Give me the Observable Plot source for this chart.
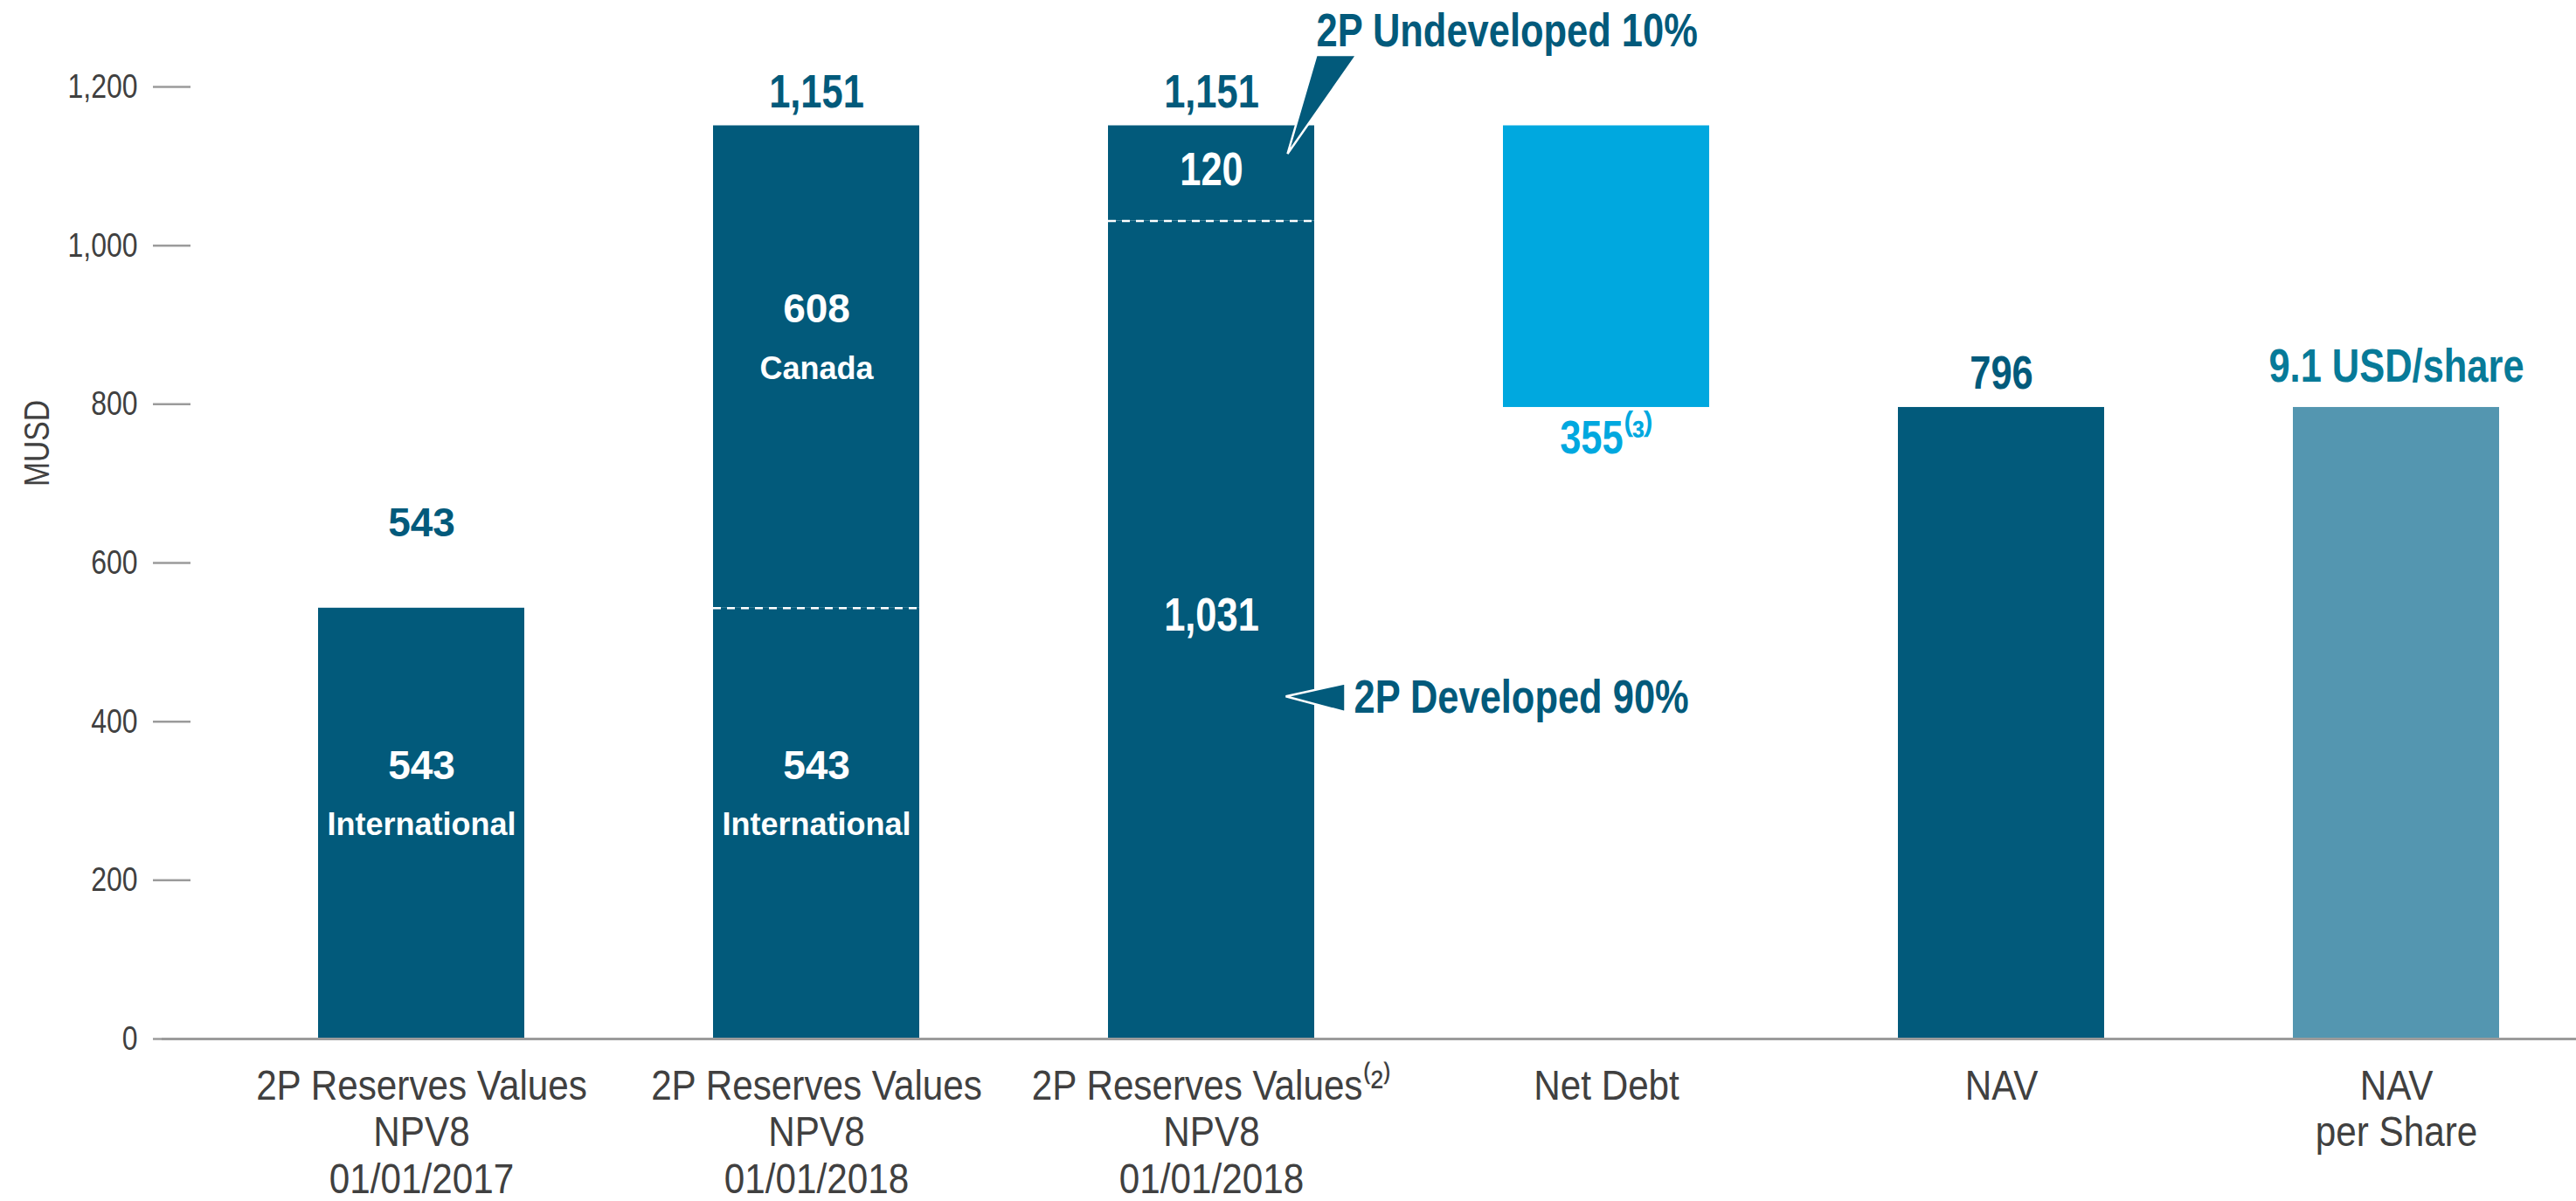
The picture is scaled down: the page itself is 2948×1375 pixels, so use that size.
<!DOCTYPE html>
<html><head><meta charset="utf-8">
<script src="https://cdn.jsdelivr.net/npm/d3@7"></script>
<script src="https://cdn.jsdelivr.net/npm/@observablehq/plot@0.6"></script>
<style>
html,body{margin:0;padding:0;background:#fff;}
#chart svg{display:block;}
</style></head><body><div id="chart"></div>
<script>
// ---- data ----
const categories = [
  "2P Reserves Values\nNPV8\n01/01/2017",
  "2P Reserves Values\nNPV8\n01/01/2018",
  "2P Reserves Values⁽²⁾\nNPV8\n01/01/2018",
  "Net Debt",
  "NAV",
  "NAV\nper Share"
];
const internationalValues = [543, 543];
const canadaValue = 608;
const developedValue = 1031;
const undevelopedValue = 120;
const netDebtValue = 355;
const navValue = 796;
const navPerShareLabel = "9.1 USD/share";
const netDebtLabel = "355⁽³⁾";
const segmentNames = ["International", "Canada"];
const annotationLabels = ["2P Undeveloped 10%", "2P Developed 90%"];
const yTicks = [0, 200, 400, 600, 800, 1000, 1200];

// ---- styles ----
const DARK = "#025a7b", CYAN = "#00a8df", LIGHT = "#5496b0", TEAL = "#077a98";
const TEXT = "#404040", AXIS = "#9b9b9b";
const NARROW = "'Liberation Sans',Arial,sans-serif";          // compressed horizontally after render
const WIDE = "'Liberation Sans',Arial,Helvetica,sans-serif";
const fmt = d3.format(",");

// ---- derived tables ----
const [c0, c1, c2, c3, c4, c5] = categories;
const total2017 = internationalValues[0];
const total2018 = internationalValues[1] + canadaValue;
const total2018b = developedValue + undevelopedValue;
const netDebtBase = total2018b - netDebtValue;

const segments = [
  {x: c0, y1: 0, y2: total2017, kind: "dark"},
  {x: c1, y1: 0, y2: internationalValues[1], kind: "dark"},
  {x: c1, y1: internationalValues[1], y2: total2018, kind: "dark"},
  {x: c2, y1: 0, y2: developedValue, kind: "dark"},
  {x: c2, y1: developedValue, y2: total2018b, kind: "dark"},
  {x: c3, y1: netDebtBase, y2: total2018b, kind: "cyan"},
  {x: c4, y1: 0, y2: navValue, kind: "dark"},
  {x: c5, y1: 0, y2: navValue, kind: "light"}
];
const dividers = [
  {x: c1, y: internationalValues[1]},
  {x: c2, y: developedValue}
];
const insideWide = [
  {x: c0, y: total2017 / 2, value: fmt(internationalValues[0]), name: segmentNames[0]},
  {x: c1, y: internationalValues[1] / 2, value: fmt(internationalValues[1]), name: segmentNames[0]},
  {x: c1, y: (internationalValues[1] + total2018) / 2, value: fmt(canadaValue), name: segmentNames[1]}
];
const insideUndev = [{x: c2, y: (developedValue + total2018b) / 2, value: fmt(undevelopedValue)}];
const insideDev = [{x: c2, y: developedValue / 2, value: fmt(developedValue)}];
const topFirst = [{x: c0, y: total2017, t: fmt(total2017)}];
const topNarrow = [
  {x: c1, y: total2018, t: fmt(total2018)},
  {x: c2, y: total2018b, t: fmt(total2018b)},
  {x: c4, y: navValue, t: fmt(navValue)}
];
const topShare = [{x: c5, y: navValue, t: navPerShareLabel}];
const debtLabel = [{x: c3, y: netDebtBase, t: netDebtLabel}];
const undevAnchor = [{x: c2, y: total2018b, t: annotationLabels[0]}];
const devAnchor = [{x: c2, y: developedValue / 2, t: annotationLabels[1]}];

// callout pointer shapes (pixel offsets from anchor)
const undevPointer = {draw(ctx) { ctx.moveTo(120, -81); ctx.lineTo(166, -81); ctx.lineTo(87, 32); ctx.closePath(); }};
const devPointer = {draw(ctx) { ctx.moveTo(85, 76); ctx.lineTo(153, 61); ctx.lineTo(153, 94); ctx.closePath(); }};

const boldNarrow = {fontFamily: NARROW, fontWeight: "bold", fontSize: 53, lineAnchor: "middle"};

const chart = Plot.plot({
  width: 2948,
  height: 1375,
  marginTop: 99,
  marginBottom: 186,
  marginLeft: 185,
  marginRight: 0,
  style: {background: "white", overflow: "visible"},
  x: {type: "band", domain: categories, paddingInner: 0.478, paddingOuter: 0.293, align: 0.672},
  y: {domain: [0, 1200]},
  color: {domain: ["dark", "cyan", "light"], range: [DARK, CYAN, LIGHT]},
  marks: [
    Plot.barY(segments, {x: "x", y1: "y1", y2: "y2", fill: "kind", insetLeft: 0, insetRight: 0}),
    Plot.tickY(dividers, {x: "x", y: "y", stroke: "white", strokeWidth: 2.5, strokeDasharray: "9,7"}),
    Plot.ruleY([0], {stroke: AXIS, strokeWidth: 3}),
    Plot.axisY({ticks: yTicks, tickFormat: fmt, tickSize: 43, tickPadding: 18, dx: 33,
      stroke: AXIS, strokeWidth: 2.5, fill: TEXT, fontSize: 39, fontFamily: NARROW, label: null}),
    Plot.axisX({tickSize: 0, tickPadding: 31, fontSize: 48, lineHeight: 1.12, fontFamily: WIDE,
      fill: TEXT, label: null}),
    Plot.text(["MUSD"], {frameAnchor: "left", textAnchor: "middle", rotate: -90, dx: -143, dy: -137,
      fontSize: 41, fontFamily: NARROW, fill: TEXT}),
    // inside labels
    Plot.text(insideWide, {x: "x", y: "y", text: "value", fill: "white", fontFamily: WIDE,
      fontWeight: "bold", fontSize: 46, lineAnchor: "middle", dy: -66}),
    Plot.text(insideWide, {x: "x", y: "y", text: "name", fill: "white", fontFamily: WIDE,
      fontWeight: "bold", fontSize: 36, lineAnchor: "middle", dy: 2}),
    Plot.text(insideUndev, {x: "x", y: "y", text: "value", fill: "white", ...boldNarrow, dy: -3}),
    Plot.text(insideDev, {x: "x", y: "y", text: "value", fill: "white", ...boldNarrow, dy: -16}),
    // top labels
    Plot.text(topFirst, {x: "x", y: "y", text: "t", fill: DARK, fontFamily: WIDE, fontWeight: "bold",
      fontSize: 46, lineAnchor: "middle", dy: -97}),
    Plot.text(topNarrow, {x: "x", y: "y", text: "t", fill: DARK, ...boldNarrow, dy: -38}),
    Plot.text(topShare, {x: "x", y: "y", text: "t", fill: TEAL, ...boldNarrow, dy: -46}),
    Plot.text(debtLabel, {x: "x", y: "y", text: "t", fill: CYAN, ...boldNarrow, dy: 36}),
    // callouts
    Plot.dot(undevAnchor, {x: "x", y: "y", r: 5, symbol: undevPointer, fill: DARK, stroke: "white", strokeWidth: 2.5}),
    Plot.text(undevAnchor, {x: "x", y: "y", text: "t", fill: DARK, ...boldNarrow, textAnchor: "start", dx: 120, dy: -108}),
    Plot.dot(devAnchor, {x: "x", y: "y", r: 5, symbol: devPointer, fill: DARK, stroke: "white", strokeWidth: 2.5}),
    Plot.text(devAnchor, {x: "x", y: "y", text: "t", fill: DARK, ...boldNarrow, textAnchor: "start", dx: 163, dy: 78})
  ]
});

// condense texts horizontally (Arial Narrow ≈ Arial at 82% width)
function condense(g, k) {
  g.querySelectorAll("text").forEach((t) => {
    let tr = t.getAttribute("transform") || "";
    const x = +t.getAttribute("x") || 0, y = +t.getAttribute("y") || 0;
    if (x || y) { t.removeAttribute("x"); t.removeAttribute("y"); tr = `translate(${x},${y}) ` + tr; }
    t.setAttribute("transform", (tr + ` scale(${k},1)`).trim());
  });
}
chart.querySelectorAll("g").forEach((g) => {
  if (g.getAttribute("font-family") === NARROW) condense(g, 0.82);
  else if (g.getAttribute("aria-label") === "x-axis tick label") condense(g, 0.88);
});
document.getElementById("chart").appendChild(chart);
</script>
</body></html>
